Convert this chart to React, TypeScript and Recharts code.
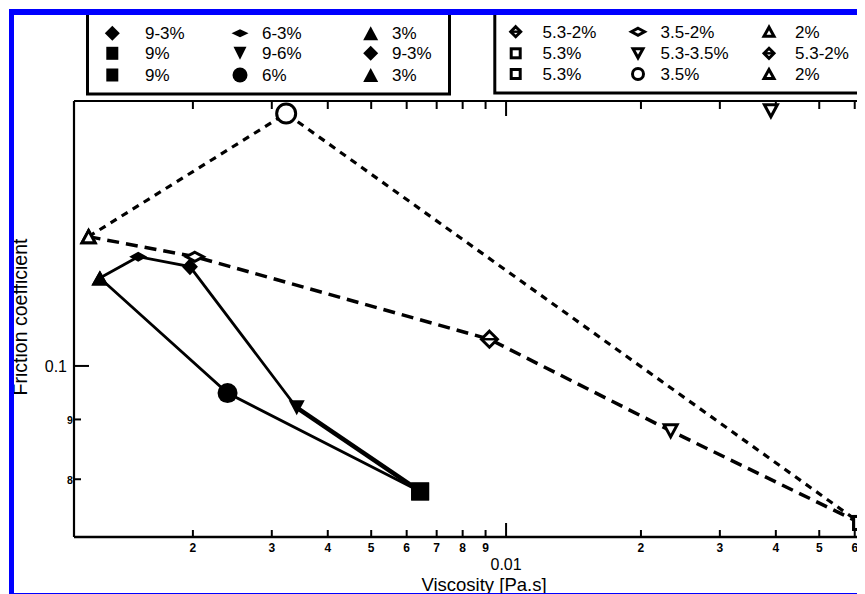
import React from "react";
import { ComposedChart, Line, Scatter, XAxis, YAxis } from "recharts";

// values: viscosity [Pa.s] vs friction coefficient
const solidPathMix = ["3%", "6-3%", "9-3%", "9-6%", "9%"];
const solidPathVisc = [0.00124, 0.00151, 0.00197, 0.00341, 0.00643];
const solidPathFric = [0.1189, 0.124, 0.1216, 0.0921, 0.0781];

const solidEdgeMix = ["3%", "6%", "9%"];
const solidEdgeVisc = [0.00124, 0.00239, 0.00643];
const solidEdgeFric = [0.1189, 0.0948, 0.0781];

const openPathMix = ["2%", "3.5-2%", "5.3-2%", "5.3-3.5%", "5.3%"];
const openPathVisc = [0.00117, 0.00202, 0.00918, 0.0233, 0.0617];
const openPathFric = [0.129, 0.124, 0.1054, 0.088, 0.0734];

const openEdgeMix = ["2%", "3.5%", "5.3%"];
const openEdgeVisc = [0.00117, 0.00323, 0.0617];
const openEdgeFric = [0.129, 0.1644, 0.0734];

const strayMix = ["5.3-3.5%"];
const strayVisc = [0.039];
const strayFric = [0.1653];

const xTicks = [0.002, 0.003, 0.004, 0.005, 0.006, 0.007, 0.008, 0.009, 0.01, 0.02, 0.03, 0.04, 0.05, 0.06];
const xTickLabels = ["2", "3", "4", "5", "6", "7", "8", "9", "0.01", "2", "3", "4", "5", "6"];
const yTicks = [0.08, 0.09, 0.1];
const yTickLabels = ["8", "9", "0.1"];

const legendSolidRows = [
  ["9-3%", "6-3%", "3%"],
  ["9%", "9-6%", "9-3%"],
  ["9%", "6%", "3%"],
];
const legendOpenRows = [
  ["5.3-2%", "3.5-2%", "2%"],
  ["5.3%", "5.3-3.5%", "5.3-2%"],
  ["5.3%", "3.5%", "2%"],
];

const solidShape: Record<string, string> = {
  "3%": "tri", "6-3%": "flatDiamond", "9-3%": "diamond", "9-6%": "triDown", "9%": "square", "6%": "circle",
};
const openShape: Record<string, string> = {
  "2%": "oTri", "3.5-2%": "oFlatDiamond", "5.3-2%": "oDiamondBar", "5.3-3.5%": "oTriDown", "5.3%": "oSquare", "3.5%": "oCircle",
};

const plotSize: Record<string, [number, number]> = {
  tri: [17, 15], triDown: [16, 15], diamond: [16, 17], flatDiamond: [18, 10], circle: [20, 20], square: [18, 18],
  oTri: [16, 15], oTriDown: [16, 15], oFlatDiamond: [20, 12], oDiamondBar: [19, 19], oCircle: [22, 22], oSquare: [16, 16],
};
const legendSize: Record<string, [number, number]> = {
  tri: [15, 14], triDown: [13, 13], diamond: [15, 15], flatDiamond: [17, 8], circle: [15, 15], square: [12, 13],
  oTri: [13, 12], oTriDown: [13, 12], oFlatDiamond: [16, 10], oDiamondBar: [13, 13], oCircle: [14, 14], oSquare: [12, 12],
};

const FONT = '"Liberation Sans", Arial, Helvetica, sans-serif';
const X_DOMAIN = [0.0010856, 0.0701];
const Y_DOMAIN = [0.0714, 0.1685];

const toPoints = (mix: string[], visc: number[], fric: number[], open: boolean) =>
  mix.map((m, i) => ({ x: visc[i], y: fric[i], mix: m, open }));

const solidPath = toPoints(solidPathMix, solidPathVisc, solidPathFric, false);
const solidTail = solidPath.slice(3);
const solidEdge = toPoints(solidEdgeMix, solidEdgeVisc, solidEdgeFric, false);
const openPath = toPoints(openPathMix, openPathVisc, openPathFric, true);
const openEdge = toPoints(openEdgeMix, openEdgeVisc, openEdgeFric, true);
const stray = toPoints(strayMix, strayVisc, strayFric, true);

function Marker({ kind, cx, cy, size }: { kind: string; cx: number; cy: number; size: [number, number] }) {
  const open = kind.startsWith("o");
  const sw = open ? 3 : 0;
  const w = size[0] - sw;
  const h = size[1] - sw;
  const fill = open ? "#fff" : "#000";
  const common = { fill, stroke: open ? "#000" : "none", strokeWidth: sw, strokeLinejoin: "miter" as const };
  const k = kind.replace(/^o/, "").toLowerCase();
  if (k === "tri") {
    return <polygon {...common} points={`${cx},${cy - h / 2} ${cx - w / 2},${cy + h / 2} ${cx + w / 2},${cy + h / 2}`} />;
  }
  if (k === "tridown") {
    return <polygon {...common} points={`${cx - w / 2},${cy - h / 2} ${cx + w / 2},${cy - h / 2} ${cx},${cy + h / 2}`} />;
  }
  if (k === "circle") {
    return <circle {...common} cx={cx} cy={cy} r={w / 2} />;
  }
  if (k === "square") {
    return <rect {...common} x={cx - w / 2} y={cy - h / 2} width={w} height={h} />;
  }
  // diamonds
  return (
    <g>
      <polygon {...common} points={`${cx},${cy - h / 2} ${cx + w / 2},${cy} ${cx},${cy + h / 2} ${cx - w / 2},${cy}`} />
      {k === "diamondbar" && <line x1={cx - w / 2} x2={cx + w / 2} y1={cy} y2={cy} stroke="#000" strokeWidth={sw * 0.8} />}
    </g>
  );
}

const shapeFor = (p: any) => {
  const kind = p.payload.open ? openShape[p.payload.mix] : solidShape[p.payload.mix];
  return <Marker kind={kind} cx={p.cx} cy={p.cy} size={plotSize[kind]} />;
};

const BottomTick = (props: any) => {
  const { x, y, payload } = props;
  const i = xTicks.indexOf(payload.value);
  const major = payload.value === 0.01;
  return (
    <g>
      <line x1={x} x2={x} y1={y} y2={y - (major ? 14 : 7)} stroke="#000" strokeWidth={2} />
      <text
        x={x}
        y={major ? y + 33 : y + 15}
        textAnchor="middle"
        fontFamily={FONT}
        fontSize={major ? 16 : 12}
        fontWeight={major ? "normal" : "bold"}
        fill="#000"
      >
        {xTickLabels[i]}
      </text>
    </g>
  );
};

const TopTick = (props: any) => {
  const { x, y, payload } = props;
  const major = payload.value === 0.01;
  return <line x1={x} x2={x} y1={y} y2={y + (major ? 15 : 8)} stroke="#000" strokeWidth={2} />;
};

const LeftTick = (props: any) => {
  const { x, y, payload } = props;
  const i = yTicks.indexOf(payload.value);
  const major = payload.value === 0.1;
  return (
    <g>
      <line x1={x} x2={x + (major ? 15 : 7)} y1={y} y2={y} stroke="#000" strokeWidth={2} />
      {major ? (
        <text x={x - 7} y={y + 5.7} textAnchor="end" fontFamily={FONT} fontSize={16} fill="#000">
          {yTickLabels[i]}
        </text>
      ) : (
        <text x={x - 4} y={y + 4.5} textAnchor="middle" fontFamily={FONT} fontSize={10.5} fontWeight="bold" fill="#000">
          {yTickLabels[i]}
        </text>
      )}
    </g>
  );
};

function LegendBox({ rows, shapes, x, width, symX, textX, rowY }: any) {
  return (
    <g>
      <rect x={x} y={4} width={width} height={rowY[2] + 15} fill="#fff" stroke="#000" strokeWidth={3} />
      {rows.map((row: string[], r: number) =>
        row.map((mix, c) => {
          const kind = shapes[mix];
          return (
            <g key={`${r}-${c}`}>
              <Marker kind={kind} cx={symX[c]} cy={rowY[r]} size={legendSize[kind]} />
              <text x={textX[c]} y={rowY[r] + 6} fontFamily={FONT} fontSize={17} fill="#000">
                {mix}
              </text>
            </g>
          );
        })
      )}
    </g>
  );
}

export default function App() {
  return (
    <div style={{ position: "relative", width: 857, height: 586, overflow: "hidden", background: "#fff" }}>
      <div style={{ position: "absolute", left: 0, top: 0 }}>
        <ComposedChart width={877} height={586} margin={{ top: 92, right: 0, bottom: 0, left: 0 }}>
          <XAxis
            xAxisId="bottom"
            type="number"
            dataKey="x"
            scale="log"
            domain={X_DOMAIN}
            allowDataOverflow
            ticks={xTicks}
            interval={0}
            tick={BottomTick}
            tickLine={false}
            tickSize={0}
            tickMargin={0}
            height={57}
            axisLine={{ stroke: "#000", strokeWidth: 2.6 }}
            label={() => (
              <text x={476} y={583} textAnchor="middle" fontFamily={FONT} fontSize={18.5} fill="#000">
                Viscosity [Pa.s]
              </text>
            )}
          />
          <XAxis
            xAxisId="top"
            orientation="top"
            type="number"
            dataKey="x"
            scale="log"
            domain={X_DOMAIN}
            allowDataOverflow
            ticks={xTicks}
            interval={0}
            tick={TopTick}
            tickLine={false}
            tickSize={0}
            tickMargin={0}
            height={1}
            axisLine={{ stroke: "#000", strokeWidth: 2 }}
          />
          <YAxis
            yAxisId="left"
            type="number"
            dataKey="y"
            scale="log"
            domain={Y_DOMAIN}
            allowDataOverflow
            ticks={yTicks}
            interval={0}
            tick={LeftTick}
            tickLine={false}
            tickSize={0}
            tickMargin={0}
            width={66}
            axisLine={{ stroke: "#000", strokeWidth: 2.2 }}
            label={() => (
              <text
                x={19}
                y={309}
                transform="rotate(-90, 19, 309)"
                textAnchor="middle"
                fontFamily={FONT}
                fontSize={19.5}
                fill="#000"
              >
                Friction coefficient
              </text>
            )}
          />

          <Line xAxisId="bottom" yAxisId="left" data={solidPath} dataKey="y" type="linear" stroke="#000" strokeWidth={2.8} dot={false} activeDot={false} isAnimationActive={false} />
          <Line xAxisId="bottom" yAxisId="left" data={solidTail} dataKey="y" type="linear" stroke="#000" strokeWidth={4.5} dot={false} activeDot={false} isAnimationActive={false} />
          <Line xAxisId="bottom" yAxisId="left" data={solidEdge} dataKey="y" type="linear" stroke="#000" strokeWidth={2.8} dot={false} activeDot={false} isAnimationActive={false} />
          <Line xAxisId="bottom" yAxisId="left" data={openPath} dataKey="y" type="linear" stroke="#000" strokeWidth={3.5} strokeDasharray="12 7" dot={false} activeDot={false} isAnimationActive={false} />
          <Line xAxisId="bottom" yAxisId="left" data={openEdge} dataKey="y" type="linear" stroke="#000" strokeWidth={3.2} strokeDasharray="7 6" dot={false} activeDot={false} isAnimationActive={false} />

          <Scatter xAxisId="bottom" yAxisId="left" data={solidPath} shape={shapeFor} isAnimationActive={false} />
          <Scatter xAxisId="bottom" yAxisId="left" data={solidEdge} shape={shapeFor} isAnimationActive={false} />
          <Scatter xAxisId="bottom" yAxisId="left" data={openPath} shape={shapeFor} isAnimationActive={false} />
          <Scatter xAxisId="bottom" yAxisId="left" data={openEdge} shape={shapeFor} isAnimationActive={false} />
          <Scatter xAxisId="bottom" yAxisId="left" data={stray} shape={shapeFor} isAnimationActive={false} />
        </ComposedChart>
      </div>

      <svg width={857} height={586} style={{ position: "absolute", left: 0, top: 0, pointerEvents: "none" }}>
        <LegendBox
          rows={legendSolidRows}
          shapes={solidShape}
          x={79.5}
          width={362}
          symX={[104.3, 232, 362.7]}
          textX={[137, 254, 384]}
          rowY={[25.3, 45.3, 67]}
        />
        <LegendBox
          rows={legendOpenRows}
          shapes={openShape}
          x={486.8}
          width={363.7}
          symX={[507.7, 630, 761]}
          textX={[534.5, 652.5, 787]}
          rowY={[23.7, 45.3, 66]}
        />
      </svg>

      <div style={{ position: "absolute", left: 1.3, top: 1.3, width: 850.7, height: 5.4, background: "#0000ff" }} />
      <div style={{ position: "absolute", left: 1.3, top: 1.3, width: 4.7, height: 590, background: "#0000ff" }} />
      <div style={{ position: "absolute", left: 1.3, top: 584.7, width: 860, height: 1.4, background: "#0000ff" }} />
    </div>
  );
}
